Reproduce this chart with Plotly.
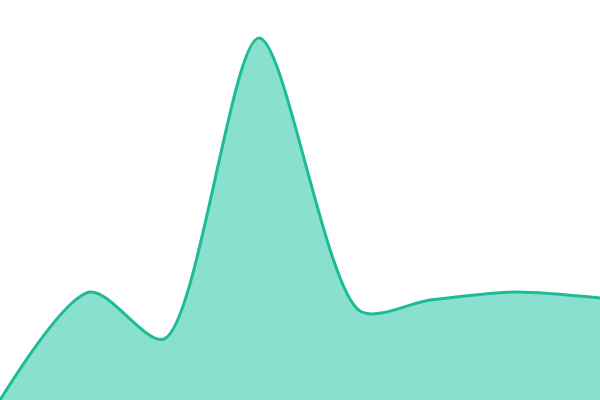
import plotly.graph_objects as go

# sample positions and values
x_pos = [0, 90, 164, 259, 360, 430, 515, 600]
values = [0, 108, 61, 362, 89, 100, 108, 102]

fig = go.Figure()
fig.add_trace(go.Scatter(
    x=x_pos,
    y=values,
    mode="lines",
    line=dict(color="#1dbb98", width=3, shape="spline", smoothing=0.8),
    fill="tozeroy",
    fillcolor="#89e0cf",
    hoverinfo="skip",
))

fig.update_xaxes(visible=False, range=[0, 600])
fig.update_yaxes(visible=False, range=[0, 400])
fig.update_layout(
    width=600,
    height=400,
    margin=dict(l=0, r=0, t=0, b=0),
    plot_bgcolor="white",
    paper_bgcolor="white",
    showlegend=False,
)

# drop the browser's default body margin so the plot fills the window
fig.write_html(
    "out.html",
    config={"displayModeBar": False},
    post_script="document.body.style.margin='0';",
)
